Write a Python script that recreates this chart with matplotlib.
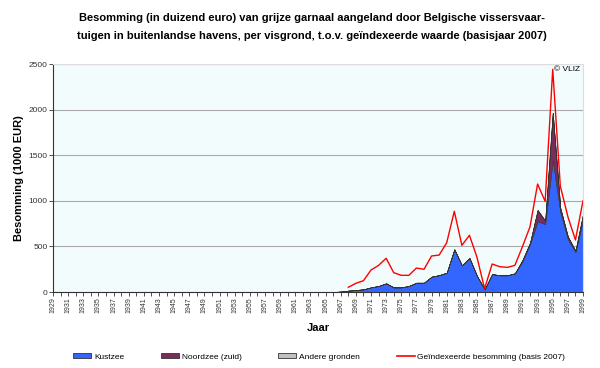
import numpy as np
import matplotlib
matplotlib.use('Agg')
import matplotlib.pyplot as plt
from matplotlib.patches import Patch
from matplotlib.lines import Line2D

plt.rcParams['font.family'] = ['Liberation Sans', 'DejaVu Sans']

years = list(range(1929, 2000))

# waarden vanaf 1967, daarvoor nul
kustzee_late = [5, 15, 22, 29, 51, 66, 95, 51, 51, 66, 102, 102, 168, 185, 212, 468, 292,
                373, 175, 29, 197, 183, 183, 205, 336, 526, 775, 746, 1447, 877, 578, 439, 789]
noordzee_late = [0, 0, 0, 0, 0, 0, 0, 0, 0, 0, 0, 0, 0, 0, 0, 0, 0,
                 0, 0, 0, 0, 0, 0, 0, 15, 15, 124, 36, 519, 44, 29, 14, 66]
andere_late = [0, 0, 0, 0, 0, 0, 0, 0, 0, 0, 0, 0, 0, 0, 0, 0, 0,
               0, 0, 0, 0, 0, 0, 0, 0, 0, 0, 0, 0, 0, 0, 0, 0]
# geindexeerde besomming vanaf 1968
index_late = [52, 95, 124, 241, 292, 370, 212, 183, 183, 263, 249, 395, 405, 541, 885, 512,
              622, 380, 37, 307, 278, 270, 292, 497, 716, 1184, 994, 2442, 1162, 826, 570, 1001]

n_early = len(years) - len(kustzee_late)
kustzee = np.array([0] * n_early + kustzee_late, dtype=float)
noordzee = np.array([0] * n_early + noordzee_late, dtype=float)
andere = np.array([0] * n_early + andere_late, dtype=float)
index = np.array([np.nan] * (len(years) - len(index_late)) + index_late, dtype=float)

c_blue = '#3366ff'
c_purple = '#7a2c5c'
c_grey = '#c0c0c0'
c_red = '#ff0000'

fig = plt.figure(figsize=(6, 3.68), dpi=100)
ax = fig.add_axes([0.0883, 0.2065, 0.8834, 0.6195])
ax.set_facecolor('#f3fcfc')

ax.stackplot(years, kustzee, noordzee, andere, colors=[c_blue, c_purple, c_grey],
             edgecolor='#333333', linewidth=0.4)
ax.plot(years, index, color=c_red, linewidth=1.0)

ax.set_xlim(1929, 1999)
ax.set_ylim(0, 2500)
ax.set_yticks(range(0, 2501, 500))
ax.set_xticks(years, minor=True)
ax.set_xticks(range(1929, 2000, 2))
ax.set_xticklabels([str(y) for y in range(1929, 2000, 2)], rotation=90, fontsize=5)
ax.tick_params(axis='y', labelsize=6, length=3, width=0.6, pad=1, colors='#333333')
ax.tick_params(axis='x', which='both', length=3, width=0.6, pad=1, colors='#333333')
ax.yaxis.grid(True, color='#aaaaaa', linewidth=0.8)
ax.set_axisbelow(True)
for s in ['top', 'right']:
    ax.spines[s].set_color('#dddddd')
for s in ['left', 'bottom']:
    ax.spines[s].set_color('#333333')
    ax.spines[s].set_linewidth(0.8)

ax.text(0.995, 0.99, '© VLIZ', transform=ax.transAxes, ha='right', va='top', fontsize=6)

ax.set_ylabel('Besomming (1000 EUR)', fontsize=8, fontweight='bold', labelpad=3)
ax.set_xlabel('Jaar', fontsize=8, fontweight='bold', labelpad=7)

fig.text(0.52, 0.926, 'Besomming (in duizend euro) van grijze garnaal aangeland door Belgische vissersvaar-\n'
         'tuigen in buitenlandse havens, per visgrond, t.o.v. geïndexeerde waarde (basisjaar 2007)',
         ha='center', va='center', fontsize=8, fontweight='bold', linespacing=1.95)

handles = [Patch(facecolor=c_blue, edgecolor='#333333', linewidth=0.6),
           Patch(facecolor=c_purple, edgecolor='#333333', linewidth=0.6),
           Patch(facecolor=c_grey, edgecolor='#333333', linewidth=0.6),
           Line2D([0], [0], color=c_red, linewidth=1.2)]
labels = ['Kustzee', 'Noordzee (zuid)', 'Andere gronden', 'Geïndexeerde besomming (basis 2007)']
fig.legend(handles, labels, loc='center', bbox_to_anchor=(0.532, 0.03), ncol=4, frameon=False,
           fontsize=6, handlelength=2.2, handleheight=0.6, columnspacing=4.4, handletextpad=0.3)

fig.savefig('out.png', dpi=100)
